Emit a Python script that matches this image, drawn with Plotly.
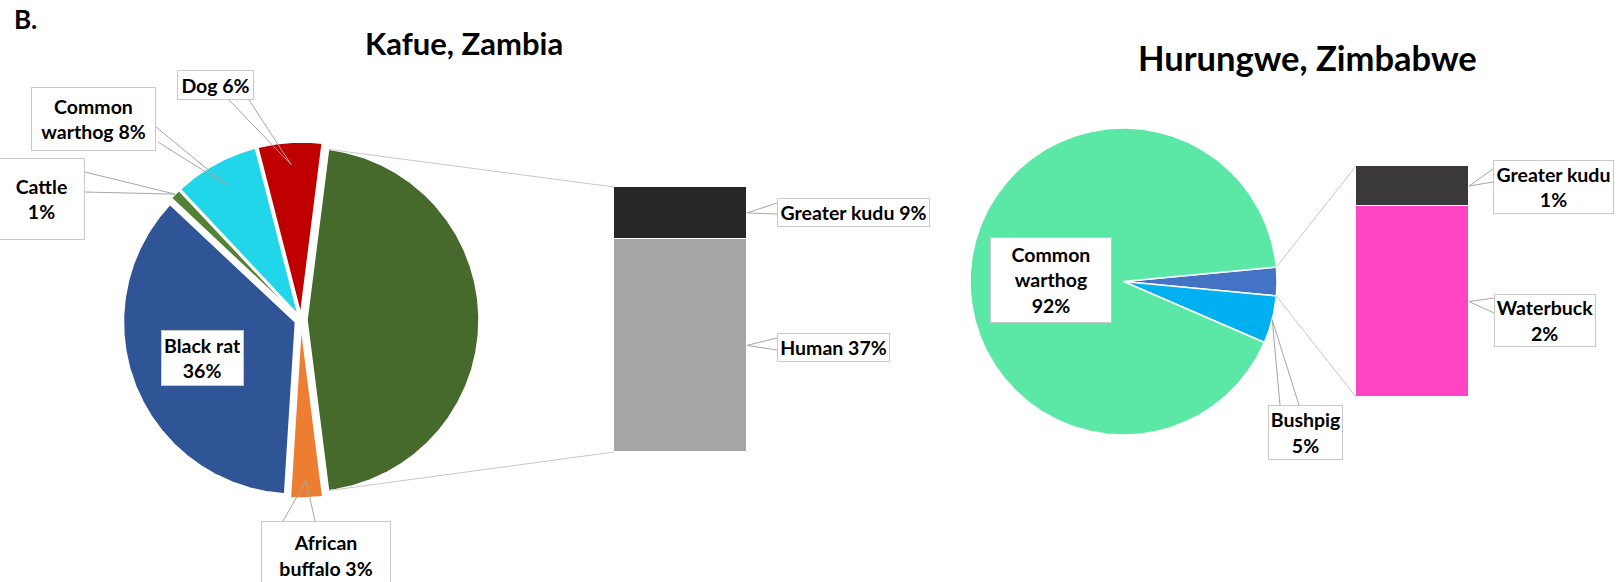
import numpy as np
import plotly.graph_objects as go

# ---------------- data ----------------
# Kafue, Zambia - primary pie (clockwise after the split-off slice) and the secondary bar
kafue_pie_names = ["African buffalo", "Black rat", "Cattle", "Common warthog", "Dog"]
kafue_pie_values = [3, 36, 1, 8, 6]
kafue_bar_names = ["Human", "Greater kudu"]          # bottom to top
kafue_bar_values = [37, 9]

# Hurungwe, Zimbabwe
hurungwe_pie_names = ["Bushpig", "Common warthog"]
hurungwe_pie_values = [5, 92]
hurungwe_bar_names = ["Waterbuck", "Greater kudu"]    # bottom to top
hurungwe_bar_values = [2.48, 0.52]

# ---------------- styling ----------------
W, H = 1621, 582
FONT = "Lato, 'Open Sans', sans-serif"
LABEL_SIZE = 19.5
LEADER = "#A6A6A6"
CONNECT = "#C8C8C8"
BOX_EDGE = "#C9C9C9"

kafue_colors = {"Other": "#456A2B", "African buffalo": "#ED7D31", "Black rat": "#2F5597",
                "Cattle": "#548235", "Common warthog": "#20D6E8", "Dog": "#C00000",
                "Human": "#A6A6A6", "Greater kudu": "#262626"}
hurungwe_colors = {"Other": "#4472C4", "Bushpig": "#00B0F0", "Common warthog": "#5BE8A6",
                   "Waterbuck": "#FF43C3", "Greater kudu": "#3A3838"}

# pie geometry in page pixels: centre x, centre y, radius, explosion
KAFUE_PIE = (301, 320, 172, 6)
HUR_PIE = (1123.5, 281.5, 153.5, 0)
# secondary bar extents in page pixels: left, right, top, bottom
KAFUE_BAR = (614, 747, 187, 452)
HUR_BAR = (1356, 1469, 166, 397)

fig = go.Figure()


def add_pie(names, values, colors, other_value, geom, group):
    cx, cy, r, d = geom
    labels = ["Other"] + list(names)
    vals = [other_value] + list(values)
    total = sum(vals)
    a0 = 90 - 180 * other_value / total   # split-off slice faces the bar
    info = {}
    for name, v in zip(labels, vals):
        a1 = a0 + 360 * v / total
        mid = np.radians((a0 + a1) / 2)
        ox, oy = d * np.sin(mid), -d * np.cos(mid)
        t = np.radians(np.linspace(a0, a1, max(int(a1 - a0) * 2, 12)))
        xs = np.concatenate([[cx + ox], cx + ox + r * np.sin(t), [cx + ox]])
        ys = np.concatenate([[cy + oy], cy + oy - r * np.cos(t), [cy + oy]])
        fig.add_trace(go.Scatter(
            x=xs, y=ys, mode="lines", fill="toself", fillcolor=colors[name],
            line=dict(color="white", width=1.5), name=f"{group}: {name}",
            hoverinfo="name", showlegend=False))
        info[name] = (a0, a1, ox, oy)
        a0 = a1
    return info


def pie_point(info, geom, name, frac, angle=None):
    cx, cy, r, _ = geom
    a0, a1, ox, oy = info[name]
    a = np.radians((a0 + a1) / 2 if angle is None else angle)
    return cx + ox + frac * r * np.sin(a), cy + oy - frac * r * np.cos(a)


def add_bar(names, values, colors, box, n, group):
    x0, x1, y0, y1 = box
    total = sum(values)
    fig.update_layout(**{
        f"xaxis{n}": dict(domain=[x0 / W, x1 / W], range=[-0.5, 0.5], visible=False,
                          anchor=f"y{n}", fixedrange=True),
        f"yaxis{n}": dict(domain=[1 - y1 / H, 1 - y0 / H], range=[0, total], visible=False,
                          anchor=f"x{n}", fixedrange=True),
    })
    mids = {}
    cum = 0
    for name, v in zip(names, values):
        fig.add_trace(go.Bar(
            x=[0], y=[v], width=1, xaxis=f"x{n}", yaxis=f"y{n}",
            marker=dict(color=colors[name], line=dict(color="white", width=1)),
            name=f"{group}: {name}", showlegend=False))
        mids[name] = y1 - (cum + v / 2) / total * (y1 - y0)
        cum += v
    return mids


def line(points, color, width=1):
    xs, ys = zip(*points)
    fig.add_trace(go.Scatter(x=list(xs), y=list(ys), mode="lines",
                             line=dict(color=color, width=width),
                             hoverinfo="skip", showlegend=False))


def label_text(name, value, wrap):
    pct = f"{value:.0f}%"
    words = name.split()
    if wrap == "line":
        return f"{name} {pct}"
    if wrap == "pct":
        return f"{name}<br>{pct}"
    if wrap == "word":
        return f"{words[0]}<br>{' '.join(words[1:])} {pct}"
    return "<br>".join(words + [pct])


def add_label(text, box, size=LABEL_SIZE):
    x0, x1, y0, y1 = box
    fig.add_annotation(
        x=(x0 + x1) / 2, y=(y0 + y1) / 2, xref="x", yref="y", text=text,
        showarrow=False, width=x1 - x0 - 2, height=y1 - y0 - 2,
        bgcolor="white", bordercolor=BOX_EDGE, borderwidth=1, borderpad=0,
        align="center", valign="middle",
        font=dict(family=FONT, size=size, color="black", weight="bold"))


# ---------------- Kafue ----------------
k_other = sum(kafue_bar_values)
k_info = add_pie(kafue_pie_names, kafue_pie_values, kafue_colors, k_other, KAFUE_PIE, "Kafue")
k_mids = add_bar(kafue_bar_names, kafue_bar_values, kafue_colors, KAFUE_BAR, 2, "Kafue")

# connectors from the split-off slice to the bar
ka0, ka1, _, _ = k_info["Other"]
line([pie_point(k_info, KAFUE_PIE, "Other", 1, ka0), (KAFUE_BAR[0], KAFUE_BAR[2])], CONNECT)
line([pie_point(k_info, KAFUE_PIE, "Other", 1, ka1), (KAFUE_BAR[0], KAFUE_BAR[3])], CONNECT)

kafue_pie_labels = {
    # name: (box, wrap, leader tip radius fraction, leader base points)
    "Dog": ((177, 254, 70, 100), "line", 0.87, [(229, 100), (249, 100)]),
    "Common warthog": ((31, 156, 87, 151), "word", 0.86, [(156, 127), (158, 142)]),
    "Cattle": ((-2, 85, 158, 240), "pct", 1.0, [(85, 172), (85, 192)]),
    "Black rat": ((161, 244, 330, 386), "pct", None, None),
    "African buffalo": ((261, 391, 521, 590), "word", 0.9, [(283, 521), (315, 521)]),
}
for name, value in zip(kafue_pie_names, kafue_pie_values):
    box, wrap, frac, base = kafue_pie_labels[name]
    if frac is not None:
        tip = pie_point(k_info, KAFUE_PIE, name, frac)
        line([base[0], tip, base[1]], LEADER)
    add_label(label_text(name, value, wrap), box)

kafue_bar_labels = {
    "Greater kudu": ((777, 930, 198, 227), "line", [(777, 203), (777, 214)]),
    "Human": ((777, 890, 333, 362), "line", [(777, 338), (777, 350)]),
}
for name, value in zip(kafue_bar_names, kafue_bar_values):
    box, wrap, base = kafue_bar_labels[name]
    line([base[0], (KAFUE_BAR[1], k_mids[name]), base[1]], LEADER)
    add_label(label_text(name, value, wrap), box)

# ---------------- Hurungwe ----------------
h_other = sum(hurungwe_bar_values)
h_info = add_pie(hurungwe_pie_names, hurungwe_pie_values, hurungwe_colors, h_other, HUR_PIE, "Hurungwe")
h_mids = add_bar(hurungwe_bar_names, hurungwe_bar_values, hurungwe_colors, HUR_BAR, 3, "Hurungwe")

ha0, ha1, _, _ = h_info["Other"]
line([pie_point(h_info, HUR_PIE, "Other", 1, ha0), (HUR_BAR[0], HUR_BAR[2])], CONNECT)
line([pie_point(h_info, HUR_PIE, "Other", 1, ha1), (HUR_BAR[0], HUR_BAR[3])], CONNECT)

hurungwe_pie_labels = {
    "Bushpig": ((1268, 1343, 405, 460), "pct", 1.0, [(1280, 405), (1299, 405)]),
    "Common warthog": ((990, 1112, 237, 323), "stack", None, None),
}
for name, value in zip(hurungwe_pie_names, hurungwe_pie_values):
    box, wrap, frac, base = hurungwe_pie_labels[name]
    if frac is not None:
        tip = pie_point(h_info, HUR_PIE, name, frac)
        line([base[0], tip, base[1]], LEADER)
    add_label(label_text(name, value, wrap), box)

hurungwe_bar_labels = {
    "Greater kudu": ((1493, 1614, 160, 214), "pct", [(1493, 169), (1493, 182)]),
    "Waterbuck": ((1494, 1596, 294, 347), "pct", [(1494, 298), (1494, 313)]),
}
for name, value in zip(hurungwe_bar_names, hurungwe_bar_values):
    box, wrap, base = hurungwe_bar_labels[name]
    line([base[0], (HUR_BAR[1], h_mids[name]), base[1]], LEADER)
    add_label(label_text(name, value, wrap), box)

# ---------------- titles ----------------
fig.add_annotation(x=464, y=43, xref="x", yref="y", text="Kafue, Zambia", showarrow=False,
                   font=dict(family=FONT, size=31, color="black", weight="bold"))
fig.add_annotation(x=1307, y=57, xref="x", yref="y", text="Hurungwe, Zimbabwe", showarrow=False,
                   font=dict(family=FONT, size=34.5, color="black", weight="bold"))
fig.add_annotation(x=12, y=19, xref="x", yref="y", text="B.", xanchor="left", showarrow=False,
                   font=dict(family=FONT, size=26, color="black", weight="bold"))

fig.update_layout(
    width=W, height=H, margin=dict(l=0, r=0, t=0, b=0),
    paper_bgcolor="white", plot_bgcolor="rgba(0,0,0,0)",
    barmode="stack", bargap=0, showlegend=False,
    xaxis=dict(range=[0, W], visible=False, fixedrange=True),
    yaxis=dict(range=[H, 0], visible=False, fixedrange=True),
)

fig.write_html("out.html")
